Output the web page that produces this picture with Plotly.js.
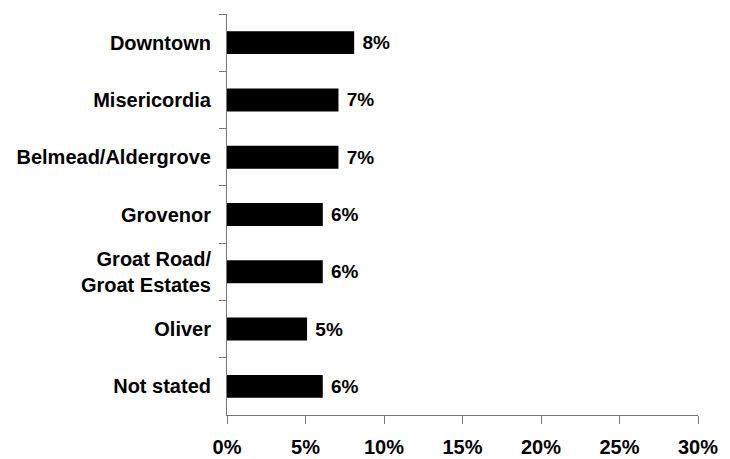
<!DOCTYPE html>
<html>
<head>
<meta charset="utf-8">
<script src="https://cdn.plot.ly/plotly-3.0.1.min.js"></script>
<style>html,body{margin:0;padding:0;background:#fff;}#chart{width:730px;height:459px;}</style>
</head>
<body>
<div id="chart"></div>
<script>
const categories = ["Downtown", "Misericordia", "Belmead/Aldergrove", "Grovenor", "Groat Road/<br>Groat Estates", "Oliver", "Not stated"];
const values = [8.1, 7.1, 7.1, 6.1, 6.1, 5.1, 6.1];
const valueLabels = ["8%", "7%", "7%", "6%", "6%", "5%", "6%"];
const xTickVals = [0, 5, 10, 15, 20, 25, 30];
const xTickText = ["0%", "5%", "10%", "15%", "20%", "25%", "30%"];

const fontFam = "Liberation Sans, Arial, sans-serif";

const trace = {
  type: "bar",
  orientation: "h",
  y: categories,
  x: values,
  text: valueLabels,
  texttemplate: "\u00a0%{text}",
  textposition: "outside",
  textfont: {family: fontFam, size: 19, color: "#000", weight: "bold"},
  cliponaxis: false,
  marker: {color: "#000", line: {width: 0}},
  hoverinfo: "none"
};

const layout = {
  width: 730, height: 459,
  margin: {l: 227, r: 32, t: 14, b: 44},
  paper_bgcolor: "#fff", plot_bgcolor: "#fff",
  showlegend: false,
  bargap: 0.6,
  font: {family: fontFam, color: "#000"},
  xaxis: {
    range: [0, 30],
    tickvals: xTickVals,
    ticktext: xTickText,
    showgrid: false, zeroline: false,
    showline: true, linecolor: "#777", linewidth: 1,
    ticks: "outside", ticklen: 8, tickcolor: "#777", tickwidth: 1,
    ticklabelstandoff: 6,
    tickfont: {family: fontFam, size: 20, color: "#000", weight: "bold"},
    fixedrange: true
  },
  yaxis: {
    type: "category",
    autorange: "reversed",
    showgrid: false, zeroline: false,
    showline: true, linecolor: "#777", linewidth: 1,
    ticks: "outside", ticklen: 7, tickcolor: "#777", tickwidth: 1,
    tickson: "boundaries",
    ticklabelstandoff: 11,
    tickfont: {family: fontFam, size: 20, color: "#000", weight: "bold"},
    fixedrange: true
  }
};

Plotly.newPlot("chart", [trace], layout, {displayModeBar: false, staticPlot: true});
</script>
</body>
</html>
